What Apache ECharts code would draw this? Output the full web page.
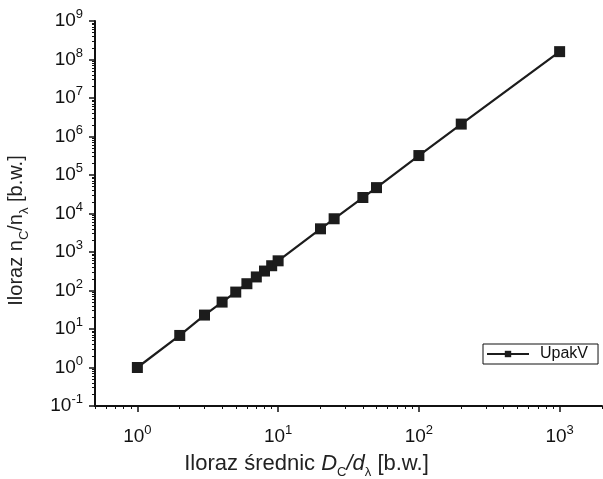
<!DOCTYPE html>
<html>
<head>
    <meta charset="utf-8">
    <title>Iloraz</title>
    <script src="https://cdn.jsdelivr.net/npm/echarts@6/dist/echarts.min.js"></script>
    <style>
        html, body { margin: 0; padding: 0; background: #fff; }
        #main { width: 603px; height: 479px; }
    </style>
</head>
<body>
<div id="main"></div>
<script type="text/javascript">
    // dane
    var seriesName = 'UpakV';
    var ratioD = [1, 2, 3, 4, 5, 6, 7, 8, 9, 10, 20, 25, 40, 50, 100, 200, 1000];
    var ratioN = [1, 6.8, 23, 50, 91, 150, 225, 320, 440, 590, 4000, 7300, 26000, 47000, 320000, 2100000, 160000000];
    var xMajorTicks = [1, 10, 100, 1000];
    var yMajorTicks = [0.1, 1, 10, 100, 1000, 1e4, 1e5, 1e6, 1e7, 1e8, 1e9];

    // podziałki pomocnicze 2..9 w każdej dekadzie
    function minorTicks(from, to) {
        var out = [];
        for (var e = from; e <= to; e++) {
            for (var m = 2; m <= 9; m++) out.push(m * Math.pow(10, e));
        }
        return out;
    }
    var xMinor = minorTicks(-1, 3).filter(function (v) { return v >= 0.5 && v <= 2000; });
    var yMinor = minorTicks(-1, 8);

    function powLabel(v) {
        var e = Math.round(Math.log10(v));
        return '{b|10}{s|' + e + '}';
    }
    var labelRich = {
        b: { fontSize: 19, lineHeight: 26, color: '#111', fontFamily: 'Liberation Sans' },
        s: { fontSize: 13, lineHeight: 13, verticalAlign: 'top', color: '#111', fontFamily: 'Liberation Sans' }
    };
    function nameRich(size) {
        return {
            a: { fontSize: size, lineHeight: 30, color: '#222', fontFamily: 'Liberation Sans' },
            i: { fontSize: size, lineHeight: 30, color: '#222', fontStyle: 'italic', fontFamily: 'Liberation Sans' },
            sub: { fontSize: 13, lineHeight: 13, verticalAlign: 'bottom', color: '#222', fontFamily: 'Liberation Sans' }
        };
    }

    var gridBox = { left: 95, right: 1, top: 21, bottom: 73, containLabel: false, outerBoundsMode: 'none' };
    var axisColor = '#111';

    var chart = echarts.init(document.getElementById('main'));
    chart.setOption({
        backgroundColor: '#fff',
        animation: false,
        grid: [
            Object.assign({}, gridBox),
            Object.assign({}, gridBox)
        ],
        legend: {
            data: [seriesName],
            left: 483,
            top: 344,
            borderColor: '#111',
            borderWidth: 1,
            borderRadius: 0,
            padding: [2, 10, 2, 3],
            itemWidth: 42,
            itemHeight: 8,
            textStyle: { fontSize: 16, color: '#111', fontFamily: 'Liberation Sans', padding: [0, 0, 0, 6] }
        },
        xAxis: [{
            type: 'log',
            logBase: 10,
            gridIndex: 0,
            min: 0.5,
            max: 2000,
            name: '{a|Iloraz średnic }{i|D}{sub|C}{i|/d}{sub|λ}{a| [b.w.]}',
            nameLocation: 'middle',
            nameGap: 43,
            nameTextStyle: { rich: nameRich(22), padding: [0, 84, 0, 0] },
            axisLine: { lineStyle: { color: axisColor, width: 2 } },
            axisTick: { customValues: xMajorTicks, length: 6, lineStyle: { color: axisColor, width: 1.5 } },
            axisLabel: { customValues: xMajorTicks, formatter: powLabel, rich: labelRich, margin: 18 },
            splitLine: { show: false },
            minorTick: { show: false }
        }, {
            type: 'log',
            logBase: 10,
            gridIndex: 1,
            min: 0.5,
            max: 2000,
            axisLine: { show: false },
            axisTick: { customValues: xMinor, length: 3, lineStyle: { color: axisColor, width: 1 } },
            axisLabel: { show: false },
            splitLine: { show: false }
        }],
        yAxis: [{
            type: 'log',
            logBase: 10,
            gridIndex: 0,
            min: 0.1,
            max: 1e9,
            name: '{a|Iloraz n}{sub|C}{a|/n}{sub|λ}{a| [b.w.]}',
            nameLocation: 'middle',
            nameGap: 64,
            nameRotate: 90,
            nameTextStyle: { rich: nameRich(20), padding: [0, 34, 0, 0] },
            axisLine: { show: true, lineStyle: { color: axisColor, width: 2 } },
            axisTick: { show: true, customValues: yMajorTicks, length: 6, lineStyle: { color: axisColor, width: 1.5 } },
            axisLabel: { customValues: yMajorTicks, formatter: powLabel, rich: labelRich, margin: 12 },
            splitLine: { show: false },
            minorTick: { show: false }
        }, {
            type: 'log',
            logBase: 10,
            gridIndex: 1,
            min: 0.1,
            max: 1e9,
            axisLine: { show: false },
            axisTick: { show: true, customValues: yMinor, length: 3, lineStyle: { color: axisColor, width: 1 } },
            axisLabel: { show: false },
            splitLine: { show: false }
        }],
        series: [{
            name: seriesName,
            type: 'line',
            xAxisIndex: 0,
            yAxisIndex: 0,
            data: ratioD.map(function (d, i) { return [d, ratioN[i]]; }),
            symbol: 'rect',
            symbolSize: 11,
            itemStyle: { color: '#1c1c1c' },
            lineStyle: { color: '#1c1c1c', width: 2.2 }
        }]
    });
</script>
</body>
</html>
